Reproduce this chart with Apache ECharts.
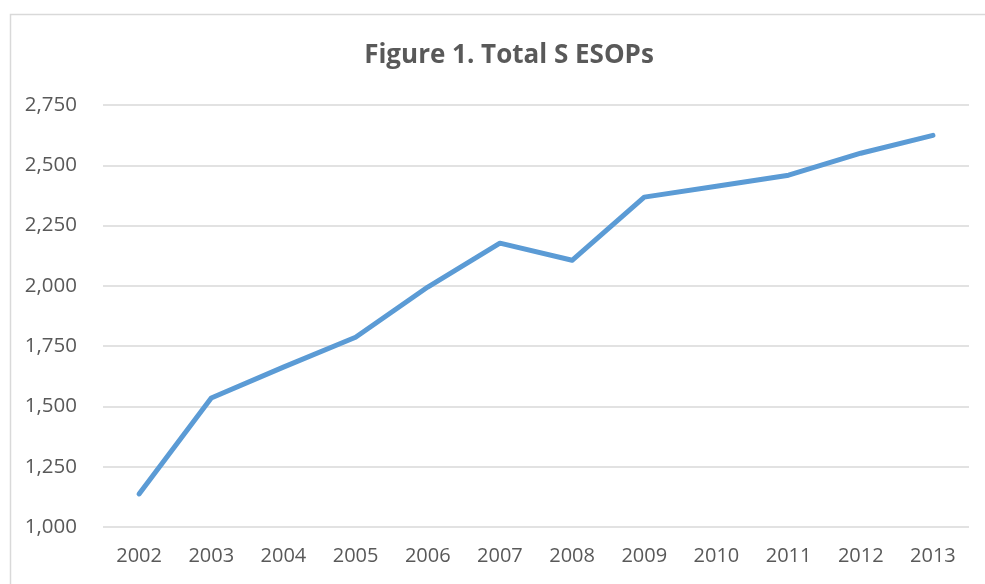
<!DOCTYPE html>
<html><head><meta charset="utf-8">
<script src="https://cdn.jsdelivr.net/npm/echarts@6/dist/echarts.min.js"></script>
<style>html,body{margin:0;padding:0;background:#fff}#c{width:985px;height:584px}</style>
</head><body><div id="c"></div>
<script>
const categories = ['2002','2003','2004','2005','2006','2007','2008','2009','2010','2011','2012','2013'];
const totalSESOPs = [1137, 1535, 1663, 1787, 1995, 2177, 2106, 2368, 2413, 2459, 2550, 2624];
const yTicks = { min: 1000, max: 2750, interval: 250 };
const titleText = 'Figure 1. Total S ESOPs';

const chart = echarts.init(document.getElementById('c'), null, {renderer: 'canvas'});
const font = "Open Sans";
chart.setOption({
  animation: false,
  backgroundColor: '#fff',
  graphic: [{
    type: 'rect', left: 8, top: 12, silent: true,
    shape: { width: 1000, height: 600 },
    style: { fill: 'none', stroke: '#d9d9d9', lineWidth: 1.5 }
  }],
  title: {
    text: titleText, left: 504, textAlign: 'center', top: 38,
    textStyle: { fontFamily: font, fontWeight: 'bold', fontSize: 26, color: '#595959' }
  },
  grid: { left: 103, right: 16, top: 105, bottom: 57 },
  xAxis: {
    type: 'category', data: categories, boundaryGap: true,
    axisLine: { show: false }, axisTick: { show: false },
    axisLabel: { fontFamily: font, fontSize: 20, color: '#595959', margin: 19 }
  },
  yAxis: {
    type: 'value', min: yTicks.min, max: yTicks.max, interval: yTicks.interval,
    axisLine: { show: false }, axisTick: { show: false },
    axisLabel: { fontFamily: font, fontSize: 20.5, color: '#595959', margin: 26,
      formatter: v => v.toLocaleString('en-US') },
    splitLine: { lineStyle: { color: '#d9d9d9', width: 1.5 } }
  },
  series: [{
    type: 'line', data: totalSESOPs, symbol: 'none',
    lineStyle: { color: '#5b9bd5', width: 5, cap: 'round', join: 'round' }
  }]
});
</script></body></html>
